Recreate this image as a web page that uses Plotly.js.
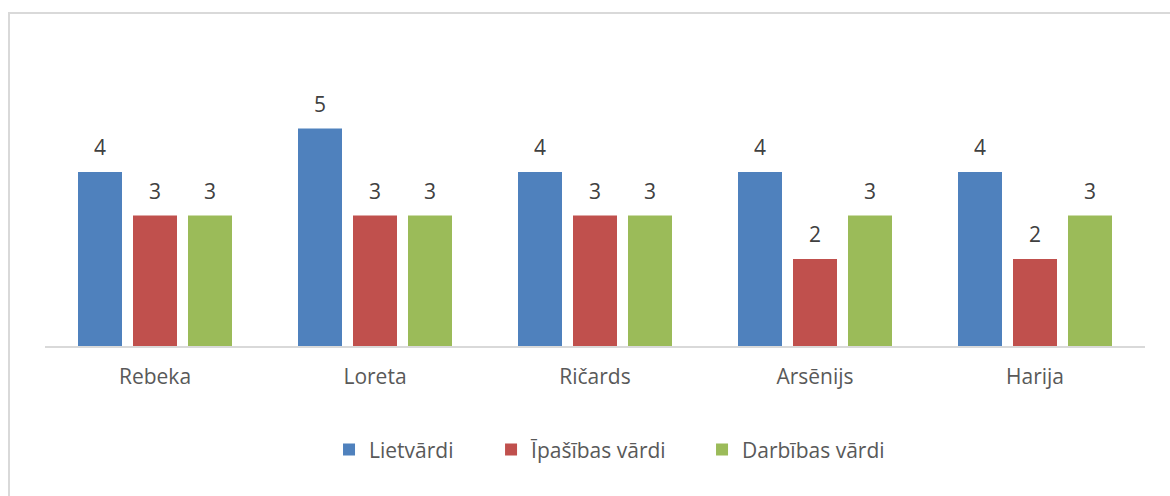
<!DOCTYPE html>
<html>
<head>
<meta charset="utf-8">
<script src="https://cdn.plot.ly/plotly-3.0.1.min.js"></script>
<style>
html,body{margin:0;padding:0;width:1170px;height:496px;overflow:hidden;background:#fff;}
#frame{position:absolute;left:8px;top:12px;width:1200px;height:540px;border:2px solid #D9D9D9;box-sizing:border-box;}
#chart{position:absolute;left:0;top:0;width:1170px;height:496px;}
</style>
</head>
<body>
<div id="frame"></div>
<div id="chart"></div>
<script>
const categories = ["Rebeka", "Loreta", "Ričards", "Arsēnijs", "Harija"];
const seriesNames = ["Lietvārdi", "Īpašības vārdi", "Darbības vārdi"];
const lietvardi = [4, 5, 4, 4, 4];
const ipasibasVardi = [3, 3, 3, 2, 2];
const darbibasVardi = [3, 3, 3, 3, 3];
const colors = ["#4F81BD", "#C0504D", "#9BBB59"];

const FS = 21;
const font = {family: "Open Sans, sans-serif", size: FS, color: "#595959"};
const labelFont = {family: "Open Sans, sans-serif", size: FS, color: "#404040"};

const values = [lietvardi, ipasibasVardi, darbibasVardi];
const legendIds = ["legend", "legend2", "legend3"];
const legendX = [0.2582, 0.4055, 0.5973];

const traces = values.map((v, i) => ({
  type: "bar",
  name: seriesNames[i],
  x: categories,
  y: v,
  marker: {color: colors[i]},
  legend: legendIds[i],
  hoverinfo: "none"
}));

// data labels, placed through the axes at each bar's slot in its group
const bargap = 0.25;
const slot = (1 - bargap) / values.length;
const annotations = [];
values.forEach((v, s) => {
  v.forEach((val, c) => {
    annotations.push({
      xref: "x", yref: "y",
      x: c + (s - (values.length - 1) / 2) * slot,
      y: val,
      text: String(val),
      showarrow: false,
      yanchor: "middle",
      xanchor: "center",
      yshift: 25,
      font: labelFont
    });
  });
});

const layout = {
  width: 1170,
  height: 496,
  margin: {l: 45, r: 25, t: 85, b: 150, pad: 0},
  paper_bgcolor: "rgba(0,0,0,0)",
  plot_bgcolor: "rgba(0,0,0,0)",
  barmode: "group",
  bargap: bargap,
  bargroupgap: 0.2,
  font: font,
  showlegend: true,
  annotations: annotations,
  xaxis: {
    type: "category",
    showline: true,
    linecolor: "#D9D9D9",
    linewidth: 2,
    ticks: "",
    showgrid: false,
    zeroline: false,
    tickfont: font,
    ticklabelstandoff: 11,
    fixedrange: true
  },
  yaxis: {
    range: [0, 6],
    visible: false,
    showgrid: false,
    zeroline: false,
    fixedrange: true
  }
};
legendIds.forEach((id, i) => {
  layout[id] = {
    orientation: "h",
    x: legendX[i], xanchor: "left",
    y: -0.398, yanchor: "middle",
    font: font,
    bgcolor: "rgba(0,0,0,0)"
  };
});

Plotly.newPlot("chart", traces, layout, {displayModeBar: false, staticPlot: true});
</script>
</body>
</html>
